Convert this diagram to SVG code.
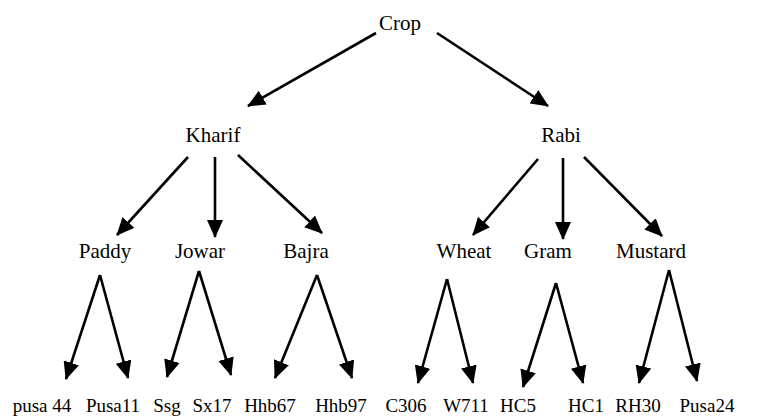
<svg xmlns="http://www.w3.org/2000/svg" width="760" height="419" viewBox="0 0 760 419">
<style>
text{font-family:"Liberation Serif","Times New Roman",serif;font-size:21px;fill:#000;text-anchor:middle}
text.s{font-size:19px}
.e{stroke:#000;stroke-width:2.6;fill:none;marker-end:url(#ah)}
</style>
<defs>
<marker id="ah" markerUnits="userSpaceOnUse" markerWidth="18" markerHeight="16" refX="17" refY="8" orient="auto" viewBox="0 0 18 16">
<path d="M0,0 L18,8 L0,16 z" fill="#000"/>
</marker>
</defs>
<rect width="760" height="419" fill="#fff"/>
<g id="connectors">
<line class="e" x1="376" y1="33" x2="248" y2="106"/>
<line class="e" x1="437" y1="33" x2="548" y2="106"/>
<line class="e" x1="188" y1="157" x2="117" y2="235"/>
<line class="e" x1="215" y1="157" x2="215" y2="237"/>
<line class="e" x1="238" y1="155" x2="322" y2="233"/>
<line class="e" x1="538" y1="159" x2="473" y2="235"/>
<line class="e" x1="563" y1="158" x2="563" y2="239"/>
<line class="e" x1="584" y1="157" x2="662" y2="236"/>
<line class="e" x1="100" y1="275" x2="66" y2="379"/>
<line class="e" x1="100" y1="275" x2="128" y2="378"/>
<line class="e" x1="199" y1="271" x2="167" y2="377"/>
<line class="e" x1="199" y1="271" x2="231" y2="375"/>
<line class="e" x1="317" y1="275" x2="275" y2="378"/>
<line class="e" x1="317" y1="275" x2="352" y2="378"/>
<line class="e" x1="447" y1="279" x2="418" y2="383"/>
<line class="e" x1="447" y1="279" x2="473" y2="383"/>
<line class="e" x1="556" y1="283" x2="523" y2="387"/>
<line class="e" x1="556" y1="283" x2="583" y2="383"/>
<line class="e" x1="669" y1="270" x2="639" y2="383"/>
<line class="e" x1="669" y1="270" x2="697" y2="381"/>
</g>
<g id="crop"><text x="400" y="30">Crop</text></g>
<g id="kharif"><text x="213" y="142">Kharif</text></g>
<g id="rabi"><text x="561" y="142">Rabi</text></g>
<g id="paddy"><text x="105" y="258">Paddy</text></g>
<g id="jowar"><text x="200" y="258">Jowar</text></g>
<g id="bajra"><text x="306" y="258">Bajra</text></g>
<g id="wheat"><text x="464" y="258">Wheat</text></g>
<g id="gram"><text x="548" y="258">Gram</text></g>
<g id="mustard"><text x="651" y="258">Mustard</text></g>
<g id="pusa44"><text class="s" x="42" y="412">pusa 44</text></g>
<g id="pusa11"><text class="s" x="113" y="412">Pusa11</text></g>
<g id="ssg"><text class="s" x="167" y="412">Ssg</text></g>
<g id="sx17"><text class="s" x="212" y="412">Sx17</text></g>
<g id="hhb67"><text class="s" x="270" y="412">Hhb67</text></g>
<g id="hhb97"><text class="s" x="341" y="412">Hhb97</text></g>
<g id="c306"><text class="s" x="406" y="412">C306</text></g>
<g id="w711"><text class="s" x="466" y="412">W711</text></g>
<g id="hc5"><text class="s" x="518" y="412">HC5</text></g>
<g id="hc1"><text class="s" x="586" y="412">HC1</text></g>
<g id="rh30"><text class="s" x="638" y="412">RH30</text></g>
<g id="pusa24"><text class="s" x="707" y="412">Pusa24</text></g>
</svg>
